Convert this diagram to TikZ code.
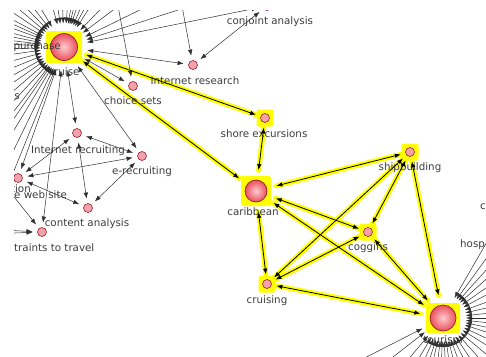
\documentclass[tikz,border=0pt]{standalone}
\usepackage{fontspec}
\setmainfont{DejaVu Sans}
\usetikzlibrary{arrows.meta,calc,backgrounds}

\definecolor{actorpink}{HTML}{F2A2AA}
\definecolor{actorrim}{HTML}{9E1B2A}
\definecolor{ballin}{HTML}{FFCCD0}
\definecolor{ballout}{HTML}{E8505E}
\definecolor{glowyellow}{HTML}{FFFF00}
\definecolor{tiegray}{HTML}{2E2E2E}
\definecolor{labelgray}{HTML}{3C3C3C}

\tikzset{
  actor/.style={circle, draw=actorrim, fill=actorpink, line width=0.6pt,
    minimum size=9pt, inner sep=0pt, outer sep=5pt},
  bigactor/.style={circle, draw=actorrim, line width=0.7pt, shade,
    inner color=ballin, outer color=ballout, minimum size=#1,
    inner sep=0pt, outer sep=10pt},
  lbl/.style={text=labelgray, font=\fontsize{10.3}{12}\selectfont, inner sep=0pt},
  tie/.style={draw=tiegray, line width=0.5pt, >={Latex[length=6pt,width=4.5pt]}},
  hitie/.style={draw=black, line width=0.8pt, <->, >={Latex[length=6pt,width=4.5pt]}},
  glow/.style={draw=glowyellow, line width=5pt, line cap=round},
  hibox/.style={fill=glowyellow, rounded corners=2pt},
}

\begin{document}
\begin{tikzpicture}[x=1pt,y=-1pt]
\useasboundingbox (0,0) rectangle (486,356);
\clip (14,10) rectangle (486,356);

% actors
\node[bigactor=27pt] (cruise) at (64,47) {};
\node[bigactor=22pt] (carib) at (256,191) {};
\node[bigactor=26pt] (tourism) at (443,318) {};
\node[actor] (conjoint) at (267,6) {};
\node[actor] (research) at (193,65) {};
\node[actor] (choice) at (133,86) {};
\node[actor] (shore) at (265,118) {};
\node[actor] (recruit) at (77,133) {};
\node[actor] (erecruit) at (142,156) {};
\node[actor] (site) at (18,178) {};
\node[actor] (content) at (88,208) {};
\node[actor] (travel) at (42,232) {};
\node[actor] (ship) at (410,152) {};
\node[actor] (coggins) at (368,232) {};
\node[actor] (cruising) at (267,284) {};

% labels
\node[lbl] (lcruise) at (64,72) {cruise};
\node[lbl,anchor=east] (lpurchase) at (61,47) {purchase};
\node[lbl,anchor=east] (ls) at (20,97) {s};
\node[lbl] (lchoice) at (133,101) {choice sets};
\node[lbl] (lresearch) at (195,81) {Internet research};
\node[lbl] (lconjoint) at (270,22) {conjoint analysis};
\node[lbl] (lshore) at (264,134) {shore excursions};
\node[lbl] (lrecruit) at (78,151) {Internet recruiting};
\node[lbl] (lerecruit) at (142,172) {e-recruiting};
\node[lbl,anchor=east] (ltion) at (31,189) {tion};
\node[lbl,anchor=west] (lsite) at (14,195) {e web site};
\node[lbl] (lcontent) at (87,224) {content analysis};
\node[lbl,anchor=west] (ltravel) at (14,248) {traints to travel};
\node[lbl] (lcarib) at (253,212) {caribbean};
\node[lbl] (lship) at (410,168) {shipbuilding};
\node[lbl] (lcoggins) at (368,248) {coggins};
\node[lbl] (lcruising) at (267,301) {cruising};
\node[lbl] (ltourism) at (443,340) {tourism};
\node[lbl,anchor=west] (lc) at (480,207) {c};
\node[lbl,anchor=west] (lhosp) at (460,245) {hosp};

% yellow marks
\begin{scope}[on background layer]
\foreach \n/\w/\h in {cruise/36/32, carib/30/30, tourism/34/30, shore/17/17,
    ship/17/17, coggins/17/17, cruising/17/17}
  \fill[hibox] ($(\n)+(-\w/2,-\h/2)$) rectangle ($(\n)+(\w/2,\h/2)$);
\foreach \a/\b in {cruise/shore, cruise/carib, shore/carib, carib/ship,
    carib/coggins, carib/tourism, carib/cruising, ship/coggins, ship/cruising,
    ship/tourism, coggins/cruising, coggins/tourism, cruising/tourism}
  \draw[glow] (\a) -- (\b);
\end{scope}

% ties into the two hubs
\foreach \a in {112,116,121,125,128,133,139,145,151,158,165,172,178,183,187,
    191,195,200,204,208,214,220,226,232,239,254,261,268,275,280,284,288,293,
    298,303,314,323,334,342} {
  \coordinate (cin\a) at ($(cruise)+(\a:300)$);
  \draw[tie,->] (cin\a) -- (cruise);
}
\foreach \a in {0,6,12,18,25,32,40,48,56,63,70,76,82,87,92,97,103,108,114,
    121,130,142,153,300,306,312,318,325,332,340,347,354} {
  \coordinate (tin\a) at ($(tourism)+(\a:300)$);
  \draw[tie,->] (tin\a) -- (tourism);
}

% ties from outside the view
\coordinate (up1) at (179,-10);
\coordinate (up2) at (115,-10);
\coordinate (west1) at (-40,228);
\coordinate (west2) at (-40,235);
\coordinate (west3) at (-20,154);
\draw[tie,->] (up1) -- (research);
\draw[tie,->] (up2) -- (choice);
\draw[tie,->] (west1) -- (travel);
\draw[tie,->] (west2) -- (travel);
\draw[tie,->] (west3) -- (travel);

% ties between actors
\foreach \a/\b in {cruise/research, cruise/choice, cruise/conjoint,
    cruise/recruit, cruise/erecruit, cruise/site, cruise/travel,
    conjoint/research, recruit/erecruit, recruit/site, recruit/content,
    erecruit/site, erecruit/content, site/content}
  \draw[tie,<->] (\a) -- (\b);

% highlighted ties
\foreach \a/\b in {cruise/shore, cruise/carib, shore/carib, carib/ship,
    carib/coggins, carib/tourism, carib/cruising, ship/coggins, ship/cruising,
    ship/tourism, coggins/cruising, coggins/tourism, cruising/tourism}
  \draw[hitie] (\a) -- (\b);
\end{tikzpicture}
\end{document}
